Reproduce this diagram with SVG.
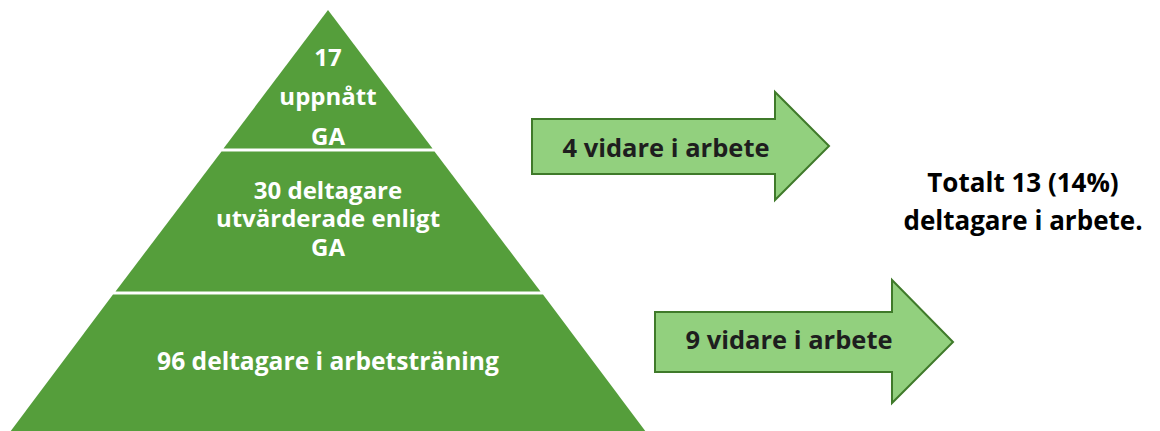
<svg xmlns="http://www.w3.org/2000/svg" width="1160" height="431" viewBox="0 0 1160 431">
<style>
.tier{fill:#559E3B}
.wt{font-family:"Open Sans",Lato,"Liberation Sans",sans-serif;font-weight:bold;fill:#FFFFFF;text-anchor:middle;font-size:24px}
.arrow{fill:#92D07E;stroke:#3F7A2A;stroke-width:2}
.at{font-family:"Open Sans",Lato,"Liberation Sans",sans-serif;font-weight:bold;fill:#1E1E1E;text-anchor:middle;font-size:25.5px}
.bt{font-family:"Open Sans",Lato,"Liberation Sans",sans-serif;font-weight:bold;fill:#000000;text-anchor:middle;font-size:26px}
</style>
<rect width="1160" height="431" fill="#FFFFFF"/>
<g id="pyramid-top">
<polygon class="tier" points="328,10 432.5,148.5 223.5,148.5"/>
<text class="wt" x="328" y="66">17</text>
<text class="wt" x="328" y="105">uppnått</text>
<text class="wt" x="328" y="145">GA</text>
</g>
<g id="pyramid-middle">
<polygon class="tier" points="221.5,151.5 434.5,151.5 540.5,291.5 115.5,291.5"/>
<text class="wt" x="328" y="199">30 deltagare</text>
<text class="wt" x="328" y="227">utvärderade enligt</text>
<text class="wt" x="328" y="256">GA</text>
</g>
<g id="pyramid-bottom">
<polygon class="tier" points="113,294.5 543,294.5 646,432 10,432"/>
<text class="wt" x="328" y="370" style="font-size:24.6px">96 deltagare i arbetsträning</text>
</g>
<g id="arrow-1">
<polygon class="arrow" points="532,119 775,119 775,92 829,146 775,200 775,174 532,174"/>
<text class="at" x="666" y="157">4 vidare i arbete</text>
</g>
<g id="arrow-2">
<polygon class="arrow" points="655,312 892,312 892,280 953,342 892,403 892,372 655,372"/>
<text class="at" x="789" y="349">9 vidare i arbete</text>
</g>
<g id="total">
<text class="bt" x="1023" y="192">Totalt 13 (14%)</text>
<text class="bt" x="1023" y="230">deltagare i arbete.</text>
</g>
<g id="connectors"></g>
</svg>
